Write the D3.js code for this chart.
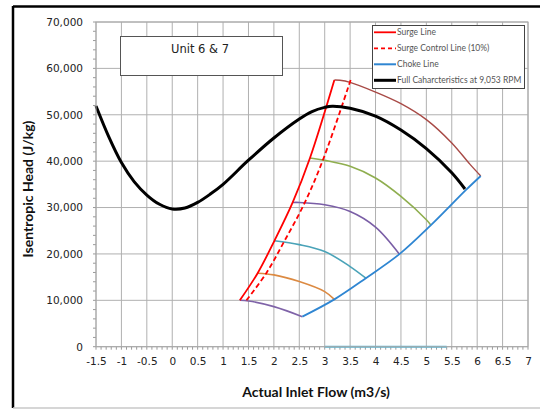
<!DOCTYPE html>
<html>
<head>
<meta charset="utf-8">
<script src="https://cdn.jsdelivr.net/npm/d3@7"></script>
<style>
  body { margin: 0; background: #fff; }
  svg { display: block; }
</style>
</head>
<body>
<div id="chart"></div>
<script>
// Full characteristic curve at 9,053 RPM
const fullX = [-1.5, -1.25, -1, -0.75, -0.5, -0.25, 0, 0.25, 0.5, 0.75, 1, 1.5, 2, 2.5, 2.75, 3, 3.15, 3.5, 4, 4.5, 5, 5.5, 5.76];
const fullH = [51900, 45300, 39700, 35600, 32700, 30700, 29700, 29900, 31100, 32900, 35000, 40200, 45000, 49100, 50700, 51600, 51850, 51400, 49700, 46700, 42700, 37500, 34000];

// surge / surge control / choke lines
const surgeX = [1.33, 1.68, 2.01, 2.37, 2.71, 3.19];
const surgeH = [10000, 15850, 22830, 31100, 40690, 57500];
const controlX = [1.46, 1.85, 2.21, 2.61, 2.98, 3.51];
const controlH = [10000, 15850, 22830, 31100, 40690, 57500];
const chokeX = [2.56, 3.19, 3.81, 4.47, 5.09, 5.78, 6.07];
const chokeH = [6480, 10200, 14770, 19950, 26200, 33800, 36800];

// speed lines
const speed1X = [1.33, 1.5, 2.0, 2.56];
const speed1H = [10000, 9870, 8640, 6480];
const speed2X = [1.68, 2.0, 2.5, 3.0, 3.19];
const speed2H = [15850, 15490, 14040, 11880, 10200];
const speed3X = [2.01, 2.5, 3.0, 3.5, 3.81];
const speed3H = [22830, 22000, 20520, 17280, 14770];
const speed4X = [2.37, 2.5, 3.0, 3.5, 4.0, 4.47];
const speed4H = [31100, 31100, 30600, 29160, 25800, 19950];
const speed5X = [2.71, 3.0, 3.5, 4.0, 4.5, 5.0, 5.09];
const speed5H = [40690, 40170, 38880, 36370, 32400, 27370, 26200];
const speed6X = [3.19, 3.3, 3.5, 4.0, 4.5, 5.0, 5.5, 5.86, 6.07];
const speed6H = [57500, 57450, 57000, 54900, 52400, 48960, 43930, 39300, 36800];
const zeroX = [3.0, 5.4];
const zeroH = [0, 0];

const xTicks = [-1.5, -1, -0.5, 0, 0.5, 1, 1.5, 2, 2.5, 3, 3.5, 4, 4.5, 5, 5.5, 6, 6.5, 7];
const yTicks = [0, 10000, 20000, 30000, 40000, 50000, 60000, 70000];

const legendNames = ['Surge Line', 'Surge Control Line (10%)', 'Choke Line', 'Full Caharcteristics at 9,053 RPM'];
const legendColors = ['#ff0000', '#ff0000', '#2f86d2', '#000000'];
const legendDash = [null, '4,3', null, null];
const legendWidth = [1.8, 1.8, 2, 3];

const W = 540, H = 410;
const x = d3.scaleLinear().domain([-1.5, 7]).range([96, 528]);
const y = d3.scaleLinear().domain([0, 70000]).range([346.7, 22]);

const svg = d3.select('#chart').append('svg')
  .attr('width', W)
  .attr('height', H);

// outer frame
svg.append('line').attr('x1', 13).attr('x2', W).attr('y1', 6.5).attr('y2', 6.5)
  .attr('stroke', '#000').attr('stroke-width', 2.5);
svg.append('line').attr('x1', 13).attr('x2', 13).attr('y1', 6).attr('y2', 408)
  .attr('stroke', '#000').attr('stroke-width', 2.5);
svg.append('line').attr('x1', 13).attr('x2', W).attr('y1', 408).attr('y2', 408)
  .attr('stroke', '#c8c8c8').attr('stroke-width', 1.5);

// grid
const grid = svg.append('g').attr('stroke', '#b0b0b0').attr('stroke-width', 1);
grid.selectAll('.vx').data(xTicks).enter().append('line')
  .attr('x1', d => x(d)).attr('x2', d => x(d))
  .attr('y1', y(0)).attr('y2', y(70000));
grid.selectAll('.hy').data(yTicks).enter().append('line')
  .attr('x1', x(-1.5)).attr('x2', x(7))
  .attr('y1', d => y(d)).attr('y2', d => y(d));

// minor ticks
const minorX = d3.range(-15, 71).map(d => d / 10);
svg.append('g').attr('stroke', '#9a9a9a').selectAll('line').data(minorX).enter().append('line')
  .attr('x1', d => x(d)).attr('x2', d => x(d))
  .attr('y1', y(0)).attr('y2', y(0) + 3);
const minorY = d3.range(0, 70001, 2000);
svg.append('g').attr('stroke', '#9a9a9a').selectAll('line').data(minorY).enter().append('line')
  .attr('x1', x(-1.5) - 3).attr('x2', x(-1.5))
  .attr('y1', d => y(d)).attr('y2', d => y(d));

// axes labels
const xAxis = svg.append('g')
  .attr('transform', `translate(0,${y(0)})`)
  .call(d3.axisBottom(x).tickValues(xTicks).tickSize(0).tickPadding(11).tickFormat(d => String(d)));
xAxis.select('.domain').remove();
xAxis.selectAll('text').attr('font-family', 'DejaVu Sans').attr('font-size', 10.5).attr('fill', '#222');

const yAxis = svg.append('g')
  .attr('transform', `translate(${x(-1.5)},0)`)
  .call(d3.axisLeft(y).tickValues(yTicks).tickSize(0).tickPadding(13).tickFormat(d3.format(',')));
yAxis.select('.domain').remove();
yAxis.selectAll('text').attr('font-family', 'DejaVu Sans').attr('font-size', 10.5).attr('fill', '#222');

svg.append('text')
  .attr('x', 316).attr('y', 397)
  .attr('text-anchor', 'middle')
  .attr('font-family', 'Lato').attr('font-weight', 'bold').attr('font-size', 14)
  .attr('fill', '#111')
  .text('Actual Inlet Flow (m3/s)');

svg.append('text')
  .attr('transform', 'translate(33,189) rotate(-90)')
  .attr('text-anchor', 'middle')
  .attr('font-family', 'Lato').attr('font-weight', 'bold').attr('font-size', 14)
  .attr('fill', '#111')
  .text('Isentropic Head (J/kg)');

// series
const line = d3.line()
  .x(d => x(d[0]))
  .y(d => y(d[1]))
  .curve(d3.curveCatmullRom);

function zip(xs, hs) {
  return xs.map((v, i) => [v, hs[i]]);
}

function draw(xs, hs, color, width, dash) {
  svg.append('path')
    .datum(zip(xs, hs))
    .attr('d', line)
    .attr('fill', 'none')
    .attr('stroke', color)
    .attr('stroke-width', width)
    .attr('stroke-dasharray', dash);
}

draw(zeroX, zeroH, '#5ab8d6', 2);
draw(speed1X, speed1H, '#7f63a8', 1.6);
draw(speed2X, speed2H, '#dc8a42', 1.6);
draw(speed3X, speed3H, '#4aa3b8', 1.6);
draw(speed4X, speed4H, '#7a5ea6', 1.6);
draw(speed5X, speed5H, '#8fae4f', 1.6);
draw(speed6X, speed6H, '#a84a46', 1.4);
draw(chokeX, chokeH, '#2f86d2', 1.8);
draw(controlX, controlH, '#ff0000', 1.8, '5,3');
draw(surgeX, surgeH, '#ff0000', 1.8);
draw(fullX, fullH, '#000000', 3);

// plot border
svg.append('rect')
  .attr('x', x(-1.5)).attr('y', y(70000))
  .attr('width', x(7) - x(-1.5)).attr('height', y(0) - y(70000))
  .attr('fill', 'none').attr('stroke', '#a8a8a8');

// unit box
svg.append('rect')
  .attr('x', 120.5).attr('y', 36.5).attr('width', 162).attr('height', 39)
  .attr('fill', '#fff').attr('stroke', '#555');
svg.append('text')
  .attr('x', 200).attr('y', 53)
  .attr('text-anchor', 'middle')
  .attr('font-family', 'DejaVu Sans').attr('font-size', 11.5).attr('fill', '#222')
  .text('Unit 6 & 7');

// legend
const legend = svg.append('g');
legend.append('rect')
  .attr('x', 372.5).attr('y', 25.5).attr('width', 152).attr('height', 63)
  .attr('fill', '#fff').attr('stroke', '#444');
const rows = legend.selectAll('g.row').data(legendNames).enter().append('g')
  .attr('transform', (d, i) => `translate(0,${32.3 + i * 16})`);
rows.append('line')
  .attr('x1', 374).attr('x2', 396).attr('y1', 0).attr('y2', 0)
  .attr('stroke', (d, i) => legendColors[i])
  .attr('stroke-width', (d, i) => legendWidth[i])
  .attr('stroke-dasharray', (d, i) => legendDash[i]);
rows.append('text')
  .attr('x', 397).attr('y', 3)
  .attr('font-family', 'Lato').attr('font-size', 8.5).attr('fill', '#555')
  .text(d => d);
</script>
</body>
</html>
